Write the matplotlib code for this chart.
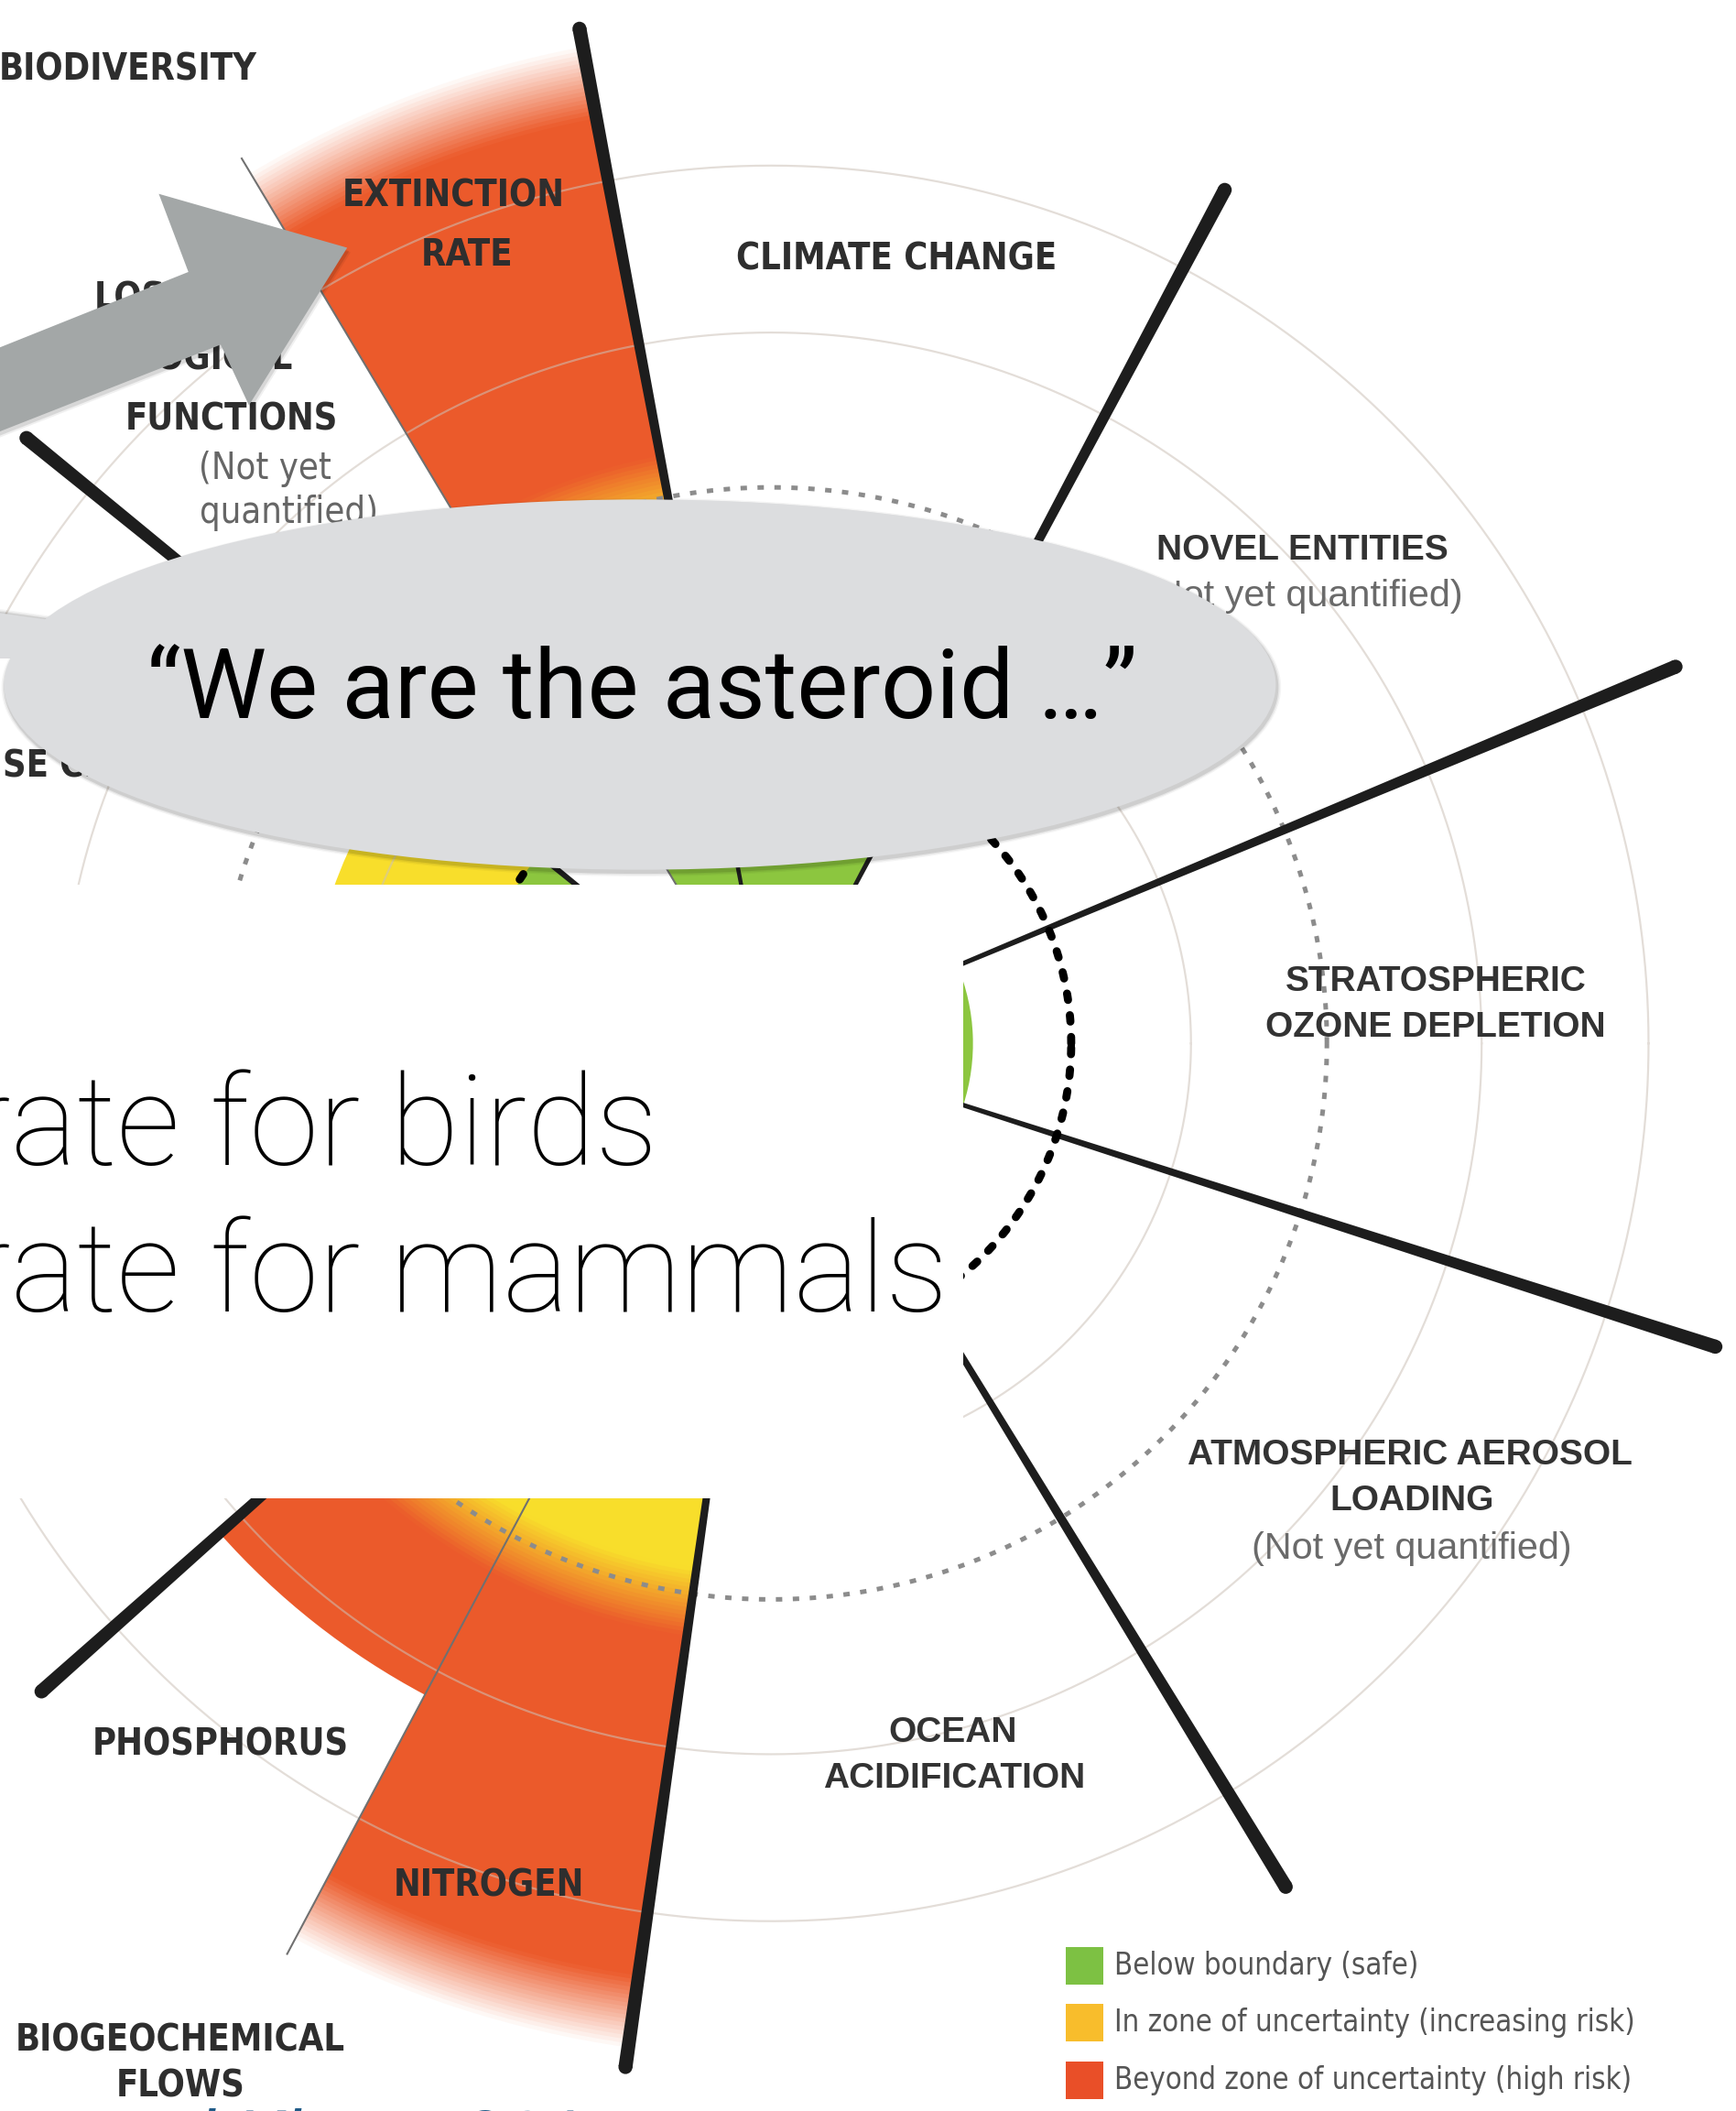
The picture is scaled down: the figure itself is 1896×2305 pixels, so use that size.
"""
Planetary boundaries wheel (Steffen et al. style) as used on a slide,
with the slide's speech bubble, pointer arrow and caption box on top.
"""
import numpy as np
import matplotlib
matplotlib.use("Agg")
import matplotlib.pyplot as plt
from matplotlib.patches import Wedge, Circle, Polygon, Rectangle, Ellipse
from matplotlib.colors import to_rgb

# ---- data ----------------------------------------------------------------
# separators between the boundaries (degrees anticlockwise from east) and reach
sep_angles = [100.7, 62.0, 22.6, -17.8, -58.6, -98.1, -138.4, -179.3, 140.9]
sep_reach = [767, 718, 728, 737, 734, 768, 725, 720, 713]
# thin lines splitting biosphere integrity and biogeochemical flows
sub_angles = [120.9, -118.0]
sub_reach = [766, 766]

seg_names = ["Climate change", "Novel entities", "Ozone depletion",
             "Aerosol loading", "Ocean acidification", "Nitrogen",
             "Phosphorus", "Freshwater use", "Land-system change",
             "Extinction rate", "Ecological functions"]
seg_start = [62.0, 22.6, -17.8, -58.6, -98.1, -118.0, -138.4, -179.3, 140.9, 100.7, 120.9]
seg_end = [100.7, 62.0, 22.6, -17.8, -58.6, -98.1, -118.0, -138.4, 180.7, 120.9, 140.9]
# radial extent of the control variable, 0 = not yet quantified
seg_value = [300, 0, 150, 0, 215, 755, 548, 200, 345, 755, 0]

R_SAFE = 223     # boundary (black dotted circle)
R_ZONE = 413     # end of zone of uncertainty (grey dotted circle)
grid_radii = [312, 528, 652]

legend_labels = ["Below boundary (safe)",
                 "In zone of uncertainty (increasing risk)",
                 "Beyond zone of uncertainty (high risk)"]
legend_colors = ["#7DC143", "#F8BD2C", "#E94F28"]

GREEN, YELLOW, RED = "#8CC63F", "#F8DE2B", "#EB5A2B"
LINE = "#1d1d1d"

# ---- canvas --------------------------------------------------------------
W, H = 1290, 1568            # drawing units
CX, CY = 573, 775            # wheel centre
PT = 1896 / W * 0.72         # points per drawing unit

plt.rcParams["font.family"] = ["Liberation Sans", "DejaVu Sans"]
fig = plt.figure(figsize=(18.96, 23.05), dpi=100)
ax = fig.add_axes([0, 0, 1, 1])
ax.set_xlim(0, W)
ax.set_ylim(H, 0)
ax.axis("off")
renderer = fig.canvas.get_renderer()


def size_for(text, width, **font):
    # font size (pt) that makes `text` `width` drawing units wide
    t = ax.text(0, 0, text, fontsize=40, **font)
    w = t.get_window_extent(renderer).width * W / 1896
    t.remove()
    return 40 * width / w


# ---- coloured wedges -----------------------------------------------------
green, yellow, red, white = (np.array(to_rgb(c)) for c in (GREEN, YELLOW, RED, "white"))


def zone_colour(r, reach):
    if r < R_SAFE:
        return green
    t = np.clip((r - 395) / 50, 0, 1)
    c = yellow + t * (red - yellow)
    if reach > 650:
        f = np.clip((r - reach + 55) / 55, 0, 1)
        c = c + f * (white - c)
    return c


STEP = 3
for a0, a1, reach in zip(seg_start, seg_end, seg_value):
    if reach == 0:
        continue
    ax.add_patch(Wedge((CX, CY), min(reach, R_SAFE), -a1, -a0, fc=GREEN, lw=0, zorder=1))
    for r in np.arange(R_SAFE, reach, STEP):
        r2 = min(r + STEP, reach)
        ax.add_patch(Wedge((CX, CY), r2, -a1, -a0, width=r2 - r + 0.7,
                           fc=zone_colour(r + STEP / 2, reach), lw=0, zorder=1))

# ---- circles -------------------------------------------------------------
th = np.linspace(0, 2 * np.pi, 1441)
for r in grid_radii:
    ax.plot(CX + r * np.cos(th), CY - r * np.sin(th), color=(0.8, 0.76, 0.72),
            alpha=0.55, lw=1.5 * PT, zorder=2)
ax.plot(CX + R_ZONE * np.cos(th), CY - R_ZONE * np.sin(th), color="#8c8c8c",
        lw=3.4 * PT, ls=(0, (1.4, 2.3)), zorder=3)
ax.plot(CX + R_SAFE * np.cos(th), CY - R_SAFE * np.sin(th), color="black",
        lw=6.0 * PT, ls=(0, (0.8, 1.9)), dash_capstyle="round", zorder=5)

# ---- radial lines --------------------------------------------------------
for ang, reach in zip(sub_angles, sub_reach):
    a = np.radians(ang)
    ax.plot([CX, CX + reach * np.cos(a)], [CY, CY - reach * np.sin(a)],
            color="#707070", lw=1.4 * PT, zorder=3)

for ang, reach in zip(sep_angles, sep_reach):
    a = np.radians(ang)
    ux, uy = np.cos(a), -np.sin(a)
    nx, ny = -uy, ux
    w0, w1 = 0.8, 5.2
    ex, ey = CX + ux * reach, CY + uy * reach
    pts = [(CX + nx * w0, CY + ny * w0), (ex + nx * w1, ey + ny * w1),
           (ex - nx * w1, ey - ny * w1), (CX - nx * w0, CY - ny * w0)]
    ax.add_patch(Polygon(pts, closed=True, fc=LINE, lw=0, zorder=4))
    ax.add_patch(Circle((ex, ey), w1, fc=LINE, lw=0, zorder=4))

# ---- labels --------------------------------------------------------------
narrow_bold = dict(family=["DejaVu Sans"], fontstretch="condensed",
                   fontweight="bold", color="#2e2e2e")
narrow_note = dict(family=["DejaVu Sans"], fontstretch="condensed",
                   color="#666666")
wide_bold = dict(family=["Liberation Sans", "DejaVu Sans"], fontweight="bold",
                 color="#333333")
wide_note = dict(family=["Liberation Sans", "DejaVu Sans"], color="#6a6a6a")

fs_nb = size_for("BIOGEOCHEMICAL", 245, **narrow_bold)
fs_nn = size_for("(Not yet", 98, **narrow_note)
fs_wb = size_for("ATMOSPHERIC AEROSOL", 330, **wide_bold)
fs_wn = size_for("(Not yet quantified)", 238, **wide_note)

for txt, x, y in [("EXTINCTION", 337, 146), ("RATE", 347, 190),
                  ("LOSS OF", 127, 222), ("ECOLOGICAL", 132, 267),
                  ("FUNCTIONS", 172, 312), ("CLIMATE CHANGE", 666, 193),
                  ("PHOSPHORUS", 164, 1296), ("NITROGEN", 363, 1401),
                  ("BIOGEOCHEMICAL", 134, 1516), ("FLOWS", 134, 1550)]:
    ax.text(x, y, txt, ha="center", va="center", fontsize=fs_nb, zorder=6, **narrow_bold)
ax.text(-1, 52, "BIODIVERSITY", ha="left", va="center", fontsize=fs_nb, zorder=6, **narrow_bold)
ax.text(2, 570, "LAND-U", ha="right", va="center", fontsize=fs_nb, zorder=6, **narrow_bold)
ax.text(2, 570, "SE CHANGE", ha="left", va="center", fontsize=fs_nb, zorder=6, **narrow_bold)
for txt, x, y in [("(Not yet", 197, 348), ("quantified)", 215, 381)]:
    ax.text(x, y, txt, ha="center", va="center", fontsize=fs_nn, zorder=6, **narrow_note)

for txt, x, y in [("NOVEL ENTITIES", 968, 409), ("STRATOSPHERIC", 1067, 729),
                  ("OZONE DEPLETION", 1067, 763), ("ATMOSPHERIC AEROSOL", 1048, 1081),
                  ("LOADING", 1049, 1115), ("OCEAN", 708, 1287),
                  ("ACIDIFICATION", 709, 1321)]:
    ax.text(x, y, txt, ha="center", va="center", fontsize=fs_wb, zorder=6, **wide_bold)
for x, y in [(968, 443), (1049, 1150)]:
    ax.text(x, y, "(Not yet quantified)", ha="center", va="center", fontsize=fs_wn,
            zorder=6, **wide_note)

# ---- legend --------------------------------------------------------------
fs_leg = size_for(legend_labels[1], 387, **narrow_note)
for i, (lab, col) in enumerate(zip(legend_labels, legend_colors)):
    y = 1460 + i * 42.5
    ax.add_patch(Rectangle((792, y - 14), 28, 28, fc=col, lw=0, zorder=6))
    ax.text(828, y, lab, ha="left", va="center", fontsize=fs_leg, zorder=6,
            family=["DejaVu Sans"], fontstretch="condensed", color="#555555")

# ---- slide overlays ------------------------------------------------------
light = dict(family=["Roboto", "Liberation Sans"], fontweight="light", color="black")
regular = dict(family=["Roboto", "Liberation Sans"], fontweight="normal", color="black")

# caption box over the wheel centre
ax.add_patch(Rectangle((-5, 657), 721, 456, fc="white", lw=0, zorder=10))
fs_box = size_for("ate for birds", 480, **light)
t1 = ax.text(489, 865, "rate for birds", ha="right", va="baseline",
             fontsize=fs_box, zorder=11, **light)
x_left = t1.get_window_extent(renderer).x0 * W / 1896
ax.text(x_left, 974, "rate for mammals", ha="left", va="baseline",
        fontsize=fs_box, zorder=11, **light)

# grey pointer arrow
arrow = [(-60, 282), (140, 202), (118, 144), (258, 184), (185, 301),
         (164, 256), (-60, 344)]
for k, a in enumerate([0.10, 0.06]):
    ax.add_patch(Polygon([(x + 1.5 + k, y + 2.5 + k) for x, y in arrow], fc="black",
                         alpha=a, lw=0, zorder=11.5))
ax.add_patch(Polygon(arrow, fc="#A3A7A7", lw=0, zorder=12))

# speech bubble
tail = [(-10, 454), (70, 465), (70, 489), (-10, 489)]
for k, a in enumerate([0.10, 0.06, 0.04]):
    d = 2 + 2 * k
    ax.add_patch(Ellipse((476.5, 510.5), 945 + d, 275 + d, fc="black", alpha=a,
                         lw=0, zorder=12.6))
    ax.add_patch(Polygon([(x, y - 1 - k) for x, y in tail[:2]] + tail[2:],
                         fc="black", alpha=a, lw=0, zorder=12.6))
ax.add_patch(Ellipse((475.5, 508.5), 945, 275, fc="#DCDDDF", lw=0, zorder=13))
ax.add_patch(Polygon(tail, fc="#DCDDDF", lw=0, zorder=13))
quote = "\u201cWe are the asteroid \u2026\u201d"
fs_q = size_for(quote, 736, **regular)
ax.text(477, 533, quote, ha="center", va="baseline", fontsize=fs_q, zorder=14, **regular)

# citation, mostly below the slide edge
cite = dict(family=["Liberation Sans", "DejaVu Sans"], style="italic", color="#1F5A87")
fs_c = size_for("2015", 122, **cite)
ax.text(464, 1606, "and Klaus, 2015", ha="right", va="baseline", fontsize=fs_c,
        zorder=15, **cite)

fig.savefig("out.png", dpi=100)
